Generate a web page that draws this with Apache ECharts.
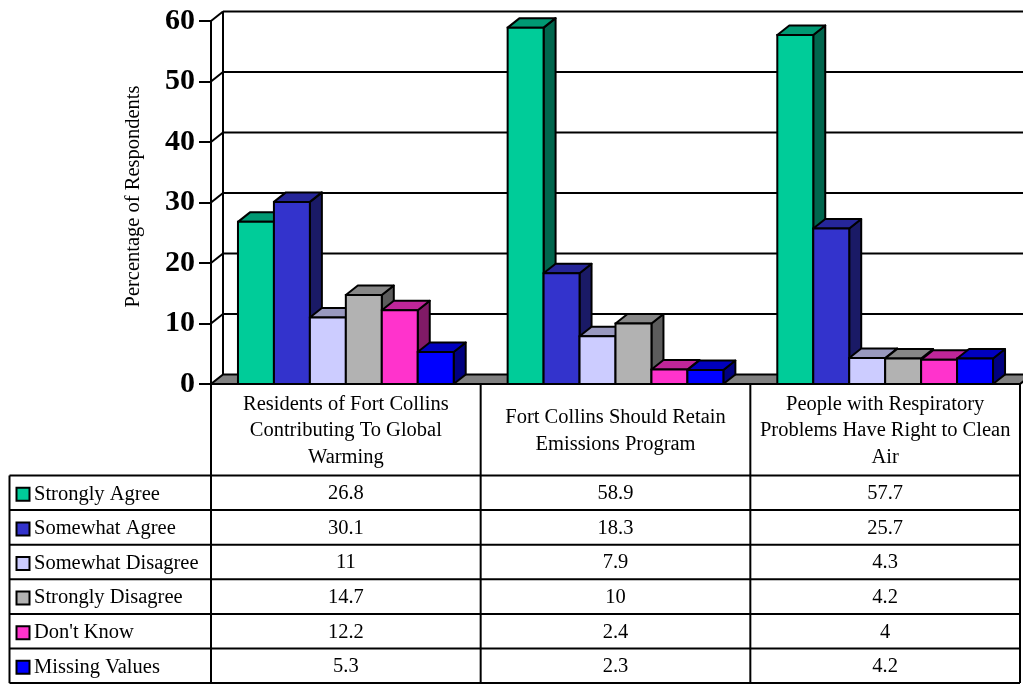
<!DOCTYPE html>
<html>
<head>
<meta charset="utf-8">
<script src="https://cdn.jsdelivr.net/npm/echarts@6/dist/echarts.min.js"></script>
<style>
  html, body { margin: 0; padding: 0; background: #ffffff; }
  #chart { width: 1023px; height: 684px; }
</style>
</head>
<body>
<div id="chart"></div>
<script>
// ---- data ----
const categories = [
  'Residents of Fort Collins\nContributing To Global\nWarming',
  'Fort Collins Should Retain\nEmissions Program',
  'People with Respiratory\nProblems Have Right to Clean\nAir'
];
const seriesNames = ['Strongly Agree', 'Somewhat Agree', 'Somewhat Disagree', 'Strongly Disagree', "Don't Know", 'Missing Values'];
const stronglyAgree    = [26.8, 58.9, 57.7];
const somewhatAgree    = [30.1, 18.3, 25.7];
const somewhatDisagree = [11, 7.9, 4.3];
const stronglyDisagree = [14.7, 10, 4.2];
const dontKnow         = [12.2, 2.4, 4];
const missingValues    = [5.3, 2.3, 4.2];
const yTicks = [0, 10, 20, 30, 40, 50, 60];

const seriesValues = [stronglyAgree, somewhatAgree, somewhatDisagree, stronglyDisagree, dontKnow, missingValues];

// ---- styling ----
const FONT = '"Liberation Serif", "Times New Roman", Times, serif';
const TEXT_SIZE = 20.5;
const frontColors = ['#00CC99', '#3333CC', '#CCCCFF', '#B2B2B2', '#FF33CC', '#0000FF'];
const topColors   = ['#009973', '#262699', '#9999BF', '#878787', '#BF2699', '#0000BF'];
const sideColors  = ['#00664D', '#1A1A66', '#666680', '#5C5C5C', '#801A66', '#000080'];

// ---- layout ----
const GRID_LEFT = 211, GRID_TOP = 21, GRID_W = 809, GRID_H = 363;
const GRID_BOTTOM = GRID_TOP + GRID_H;
const DX = 12, DY = 9.5;            // depth offset of the 3D box
const TABLE_LEFT = 9.5;
const TABLE_RIGHT = GRID_LEFT + GRID_W;
const TABLE_TOP = 475.5, ROW_H = 34.6;
const TABLE_BOTTOM = TABLE_TOP + ROW_H * seriesNames.length;
const BAND = GRID_W / categories.length;
const GROUP_RATIO = 0.8;

const edge = { stroke: '#000', lineWidth: 2 };

// back wall, side wall and floor
function renderWalls(params, api) {
  const cs = params.coordSys;
  const v = api.value(1);
  const y = api.coord([0, v])[1];
  const right = cs.x + cs.width;
  const children = [];
  if (v === 0) {
    children.push({
      type: 'polygon',
      shape: { points: [[cs.x, y], [right, y], [right + DX, y - DY], [cs.x + DX, y - DY]] },
      style: { fill: '#808080', stroke: '#000', lineWidth: 2 }
    });
  } else {
    children.push({ type: 'line', shape: { x1: cs.x, y1: y, x2: cs.x + DX, y2: y - DY }, style: edge });
    children.push({ type: 'line', shape: { x1: cs.x + DX, y1: y - DY, x2: right + DX, y2: y - DY }, style: edge });
  }
  if (v === yTicks[yTicks.length - 1]) {
    const y0 = api.coord([0, 0])[1];
    children.push({ type: 'line', shape: { x1: cs.x + DX, y1: y - DY, x2: cs.x + DX, y2: y0 - DY }, style: edge });
  }
  return { type: 'group', children };
}

// one 3D bar per category plus its value in the data table
function makeBarRenderer(i) {
  return function (params, api) {
    const cat = api.value(0);
    const val = api.value(1);
    const pTop = api.coord([cat, val]);
    const y0 = api.coord([cat, 0])[1];
    const band = api.size([1, 0])[0];
    const bw = band * GROUP_RATIO / seriesNames.length;
    const x = pTop[0] - band * GROUP_RATIO / 2 + i * bw;
    const yt = pTop[1];
    return {
      type: 'group',
      children: [
        {
          type: 'polygon',
          shape: { points: [[x + bw, yt], [x + bw + DX, yt - DY], [x + bw + DX, y0 - DY], [x + bw, y0]] },
          style: { fill: sideColors[i], stroke: '#000', lineWidth: 2, lineJoin: 'round' }
        },
        {
          type: 'polygon',
          shape: { points: [[x, yt], [x + DX, yt - DY], [x + bw + DX, yt - DY], [x + bw, yt]] },
          style: { fill: topColors[i], stroke: '#000', lineWidth: 2, lineJoin: 'round' }
        },
        {
          type: 'rect',
          shape: { x: x, y: yt, width: bw, height: y0 - yt },
          style: { fill: frontColors[i], stroke: '#000', lineWidth: 2 }
        },
        {
          type: 'text',
          x: pTop[0],
          y: TABLE_TOP + (i + 0.5) * ROW_H + 1,
          style: {
            text: String(val), fill: '#000', fontFamily: FONT, fontSize: TEXT_SIZE,
            align: 'center', verticalAlign: 'middle'
          }
        }
      ]
    };
  };
}

// table rules and legend column
const graphics = [];
for (let r = 0; r <= seriesNames.length; r++) {
  const y = TABLE_TOP + r * ROW_H;
  graphics.push({ type: 'line', z: 10, shape: { x1: TABLE_LEFT, y1: y, x2: TABLE_RIGHT, y2: y }, style: edge });
}
graphics.push({ type: 'line', z: 10, shape: { x1: TABLE_LEFT, y1: TABLE_TOP, x2: TABLE_LEFT, y2: TABLE_BOTTOM }, style: edge });
for (let k = 0; k <= categories.length; k++) {
  const x = GRID_LEFT + k * BAND;
  graphics.push({ type: 'line', z: 10, shape: { x1: x, y1: GRID_BOTTOM, x2: x, y2: TABLE_BOTTOM }, style: edge });
}
graphics.push({ type: 'line', z: 10, shape: { x1: GRID_LEFT, y1: GRID_BOTTOM, x2: TABLE_RIGHT, y2: GRID_BOTTOM }, style: edge });
seriesNames.forEach((name, i) => {
  const cy = TABLE_TOP + (i + 0.5) * ROW_H;
  graphics.push({
    type: 'rect', z: 10,
    shape: { x: 16.5, y: cy - 5, width: 13, height: 13 },
    style: { fill: frontColors[i], stroke: '#000', lineWidth: 2 }
  });
  graphics.push({
    type: 'text', z: 10, x: 34, y: cy + 1.5,
    style: { text: name, fill: '#000', fontFamily: FONT, fontSize: TEXT_SIZE, verticalAlign: 'middle', align: 'left' }
  });
});

const series = [{
  type: 'custom',
  name: 'walls',
  z: 1,
  silent: true,
  renderItem: renderWalls,
  data: yTicks.map(v => [0, v])
}];
seriesNames.forEach((name, i) => {
  series.push({
    type: 'custom',
    name: name,
    z: 2,
    renderItem: makeBarRenderer(i),
    encode: { x: 0, y: 1 },
    data: seriesValues[i].map((v, c) => [c, v])
  });
});

const chart = echarts.init(document.getElementById('chart'), null, { renderer: 'canvas' });
chart.setOption({
  animation: false,
  backgroundColor: '#ffffff',
  grid: { left: GRID_LEFT, top: GRID_TOP, width: GRID_W, height: GRID_H },
  xAxis: {
    type: 'category',
    data: categories,
    axisLine: { show: false },
    axisTick: { show: false },
    splitLine: { show: false },
    axisLabel: {
      interval: 0,
      margin: 47,
      color: '#000',
      fontFamily: FONT,
      fontSize: TEXT_SIZE,
      lineHeight: 26.5,
      align: 'center',
      verticalAlign: 'middle'
    }
  },
  yAxis: {
    type: 'value',
    min: 0, max: 60, interval: 10,
    z: 5,
    name: 'Percentage of Respondents',
    nameLocation: 'middle',
    nameGap: 67,
    nameTextStyle: { color: '#000', fontFamily: FONT, fontSize: TEXT_SIZE, padding: [0, 0, 0, 12] },
    axisLine: { show: true, lineStyle: { color: '#000', width: 2 } },
    axisTick: { show: true, length: 12, lineStyle: { color: '#000', width: 2 } },
    splitLine: { show: false },
    axisLabel: { margin: 16, color: '#000', fontFamily: FONT, fontSize: 30, fontWeight: 'bold' }
  },
  graphic: graphics,
  series: series
});
</script>
</body>
</html>
